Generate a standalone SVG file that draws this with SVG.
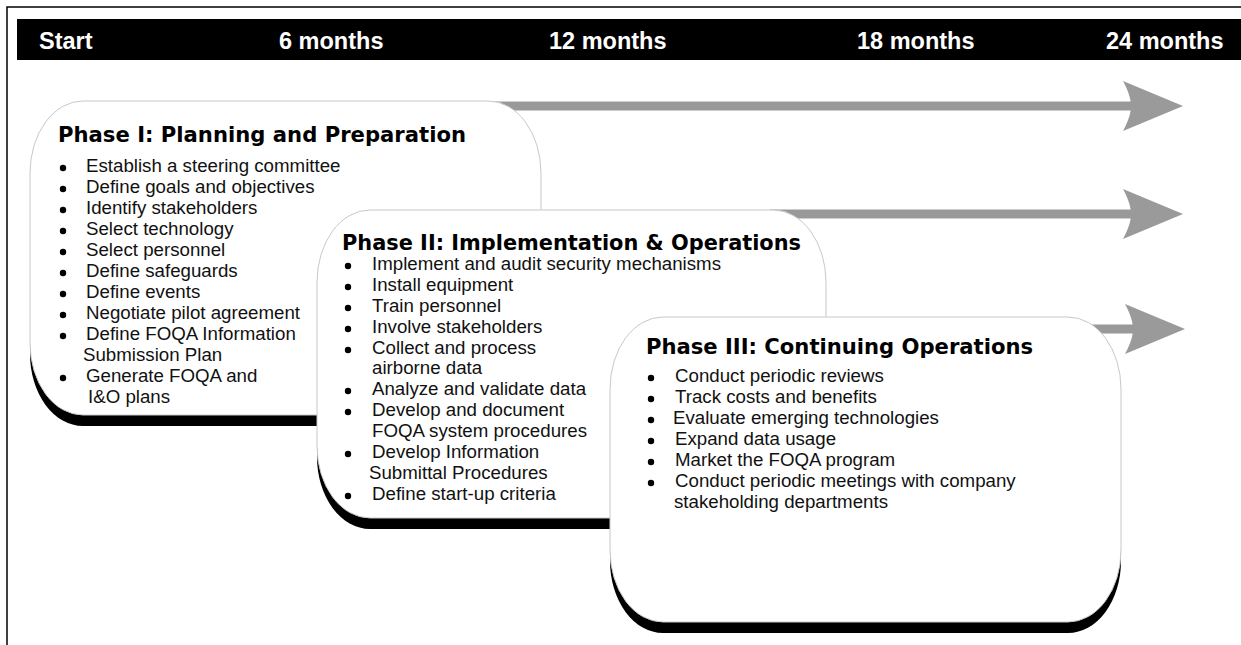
<svg xmlns="http://www.w3.org/2000/svg" width="1241" height="645" viewBox="0 0 1241 645">
  <style>
    .frame { stroke: #000; stroke-width: 1.5; fill: none; }
    .bar { fill: #000; }
    .tl { font-family: "Liberation Sans", Arial, sans-serif; font-weight: bold; font-size: 23.5px; fill: #fff; }
    .shadow { fill: #000; }
    .box { fill: #fff; stroke: #c8c8c8; stroke-width: 1; }
    .title { font-family: "DejaVu Sans", Verdana, sans-serif; font-weight: bold; font-size: 21px; fill: #000; }
    .item { font-family: "Liberation Sans", Arial, sans-serif; font-size: 18.7px; fill: #111; }
    .bul { fill: #000; }
    .shaft { stroke: #999; stroke-width: 9; fill: none; marker-end: url(#head); }
  </style>
  <defs>
    <marker id="head" markerUnits="userSpaceOnUse" viewBox="0 -26 62 52" markerWidth="62" markerHeight="52" refX="47" refY="0" orient="auto">
      <path d="M0,-25 L60,0 L0,25 C6,14 8,6 8,0 C8,-6 6,-14 0,-25 Z" fill="#9a9a9a"/>
    </marker>
  </defs>

  <rect width="1241" height="645" fill="#fff"/>
  <path class="frame" d="M7,645 V7 H1241"/>

  <g id="timeline">
    <rect class="bar" x="17" y="19" width="1224" height="41"/>
    <text class="tl" x="39" y="49">Start</text>
    <text class="tl" x="279" y="49">6 months</text>
    <text class="tl" x="549" y="49">12 months</text>
    <text class="tl" x="857" y="49">18 months</text>
    <text class="tl" x="1106" y="49">24 months</text>
  </g>

  <g id="connectors">
    <path class="shaft" d="M480,106 H1170"/>
    <path class="shaft" d="M770,214 H1170"/>
    <path class="shaft" d="M1060,329 H1172"/>
  </g>

  <g id="phase1">
    <rect class="shadow" x="30" y="112" width="511" height="314" rx="53" ry="72"/>
    <rect class="box" x="30" y="101" width="511" height="314" rx="53" ry="72"/>
    <text class="title" x="58" y="142" textLength="408" lengthAdjust="spacingAndGlyphs">Phase I: Planning and Preparation</text>
    <circle class="bul" cx="63" cy="168" r="3.2"/><text class="item" x="86" y="172">Establish a steering committee</text>
    <circle class="bul" cx="63" cy="189" r="3.2"/><text class="item" x="86" y="193">Define goals and objectives</text>
    <circle class="bul" cx="63" cy="210" r="3.2"/><text class="item" x="86" y="214">Identify stakeholders</text>
    <circle class="bul" cx="63" cy="231" r="3.2"/><text class="item" x="86" y="235">Select technology</text>
    <circle class="bul" cx="63" cy="252" r="3.2"/><text class="item" x="86" y="256">Select personnel</text>
    <circle class="bul" cx="63" cy="273" r="3.2"/><text class="item" x="86" y="277">Define safeguards</text>
    <circle class="bul" cx="63" cy="294" r="3.2"/><text class="item" x="86" y="298">Define events</text>
    <circle class="bul" cx="63" cy="315" r="3.2"/><text class="item" x="86" y="319">Negotiate pilot agreement</text>
    <circle class="bul" cx="63" cy="336" r="3.2"/><text class="item" x="86" y="340">Define FOQA Information</text>
    <text class="item" x="83" y="361">Submission Plan</text>
    <circle class="bul" cx="63" cy="378" r="3.2"/><text class="item" x="86" y="382">Generate FOQA and</text>
    <text class="item" x="88" y="403">I&amp;O plans</text>
  </g>

  <g id="phase2">
    <rect class="shadow" x="317" y="221" width="509" height="308" rx="53" ry="72"/>
    <rect class="box" x="317" y="210" width="509" height="308" rx="53" ry="72"/>
    <text class="title" x="342" y="250" textLength="459" lengthAdjust="spacingAndGlyphs">Phase II: Implementation &amp; Operations</text>
    <circle class="bul" cx="348" cy="266" r="3.2"/><text class="item" x="372" y="270">Implement and audit security mechanisms</text>
    <circle class="bul" cx="348" cy="287" r="3.2"/><text class="item" x="372" y="291">Install equipment</text>
    <circle class="bul" cx="348" cy="308" r="3.2"/><text class="item" x="372" y="312">Train personnel</text>
    <circle class="bul" cx="348" cy="329" r="3.2"/><text class="item" x="372" y="333">Involve stakeholders</text>
    <circle class="bul" cx="348" cy="350" r="3.2"/><text class="item" x="372" y="354">Collect and process</text>
    <text class="item" x="372" y="374">airborne data</text>
    <circle class="bul" cx="348" cy="391" r="3.2"/><text class="item" x="372" y="395">Analyze and validate data</text>
    <circle class="bul" cx="348" cy="412" r="3.2"/><text class="item" x="372" y="416">Develop and document</text>
    <text class="item" x="372" y="437">FOQA system procedures</text>
    <circle class="bul" cx="348" cy="454" r="3.2"/><text class="item" x="372" y="458">Develop Information</text>
    <text class="item" x="369" y="479">Submittal Procedures</text>
    <circle class="bul" cx="348" cy="496" r="3.2"/><text class="item" x="372" y="500">Define start-up criteria</text>
  </g>

  <g id="phase3">
    <rect class="shadow" x="610" y="328" width="511" height="305" rx="53" ry="72"/>
    <rect class="box" x="610" y="317" width="511" height="305" rx="53" ry="72"/>
    <text class="title" x="646" y="354" textLength="387" lengthAdjust="spacingAndGlyphs">Phase III: Continuing Operations</text>
    <circle class="bul" cx="651" cy="378" r="3.2"/><text class="item" x="675" y="382">Conduct periodic reviews</text>
    <circle class="bul" cx="651" cy="399" r="3.2"/><text class="item" x="675" y="403">Track costs and benefits</text>
    <circle class="bul" cx="651" cy="420" r="3.2"/><text class="item" x="673" y="424">Evaluate emerging technologies</text>
    <circle class="bul" cx="651" cy="441" r="3.2"/><text class="item" x="675" y="445">Expand data usage</text>
    <circle class="bul" cx="651" cy="462" r="3.2"/><text class="item" x="675" y="466">Market the FOQA program</text>
    <circle class="bul" cx="651" cy="483" r="3.2"/><text class="item" x="675" y="487">Conduct periodic meetings with company</text>
    <text class="item" x="674" y="508">stakeholding departments</text>
  </g>
</svg>
